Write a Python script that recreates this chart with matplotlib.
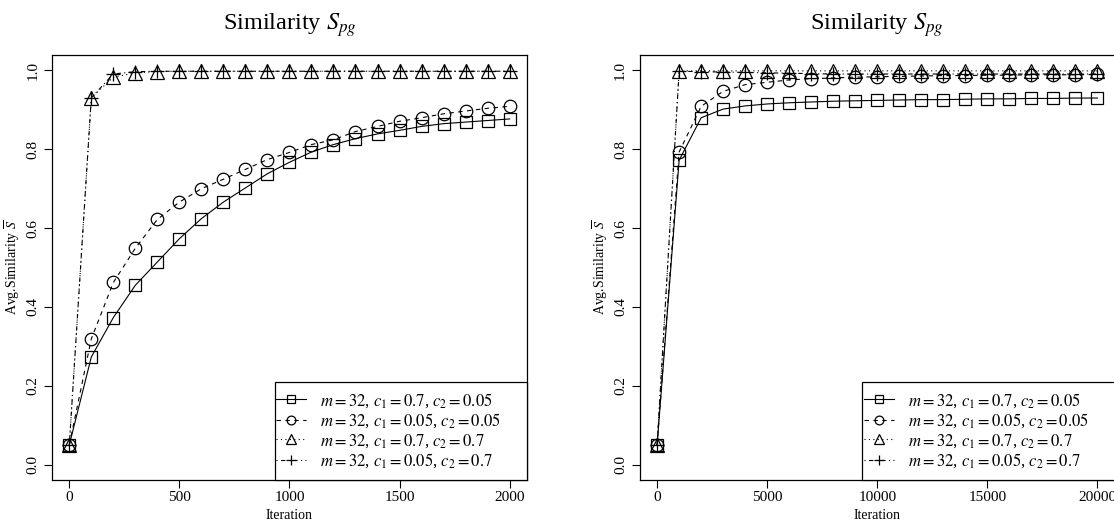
import matplotlib
matplotlib.use("Agg")
import matplotlib.pyplot as plt
from matplotlib.patches import Rectangle

plt.rcParams["font.family"] = ["Liberation Serif", "DejaVu Serif"]
plt.rcParams["mathtext.fontset"] = "stix"

# ---- data -------------------------------------------------------------
iter_short = [0, 100, 200, 300, 400, 500, 600, 700, 800, 900, 1000,
              1100, 1200, 1300, 1400, 1500, 1600, 1700, 1800, 1900, 2000]
short_c07_c005 = [0.050, 0.273, 0.373, 0.455, 0.514, 0.573, 0.624, 0.666, 0.702, 0.738, 0.767,
                  0.793, 0.812, 0.827, 0.839, 0.848, 0.858, 0.865, 0.869, 0.873, 0.877]
short_c005_c005 = [0.050, 0.319, 0.462, 0.549, 0.622, 0.666, 0.700, 0.724, 0.749, 0.774, 0.792,
                   0.812, 0.824, 0.845, 0.858, 0.871, 0.880, 0.890, 0.897, 0.904, 0.909]
short_c07_c07 = [0.050, 0.931, 0.983, 0.994, 0.997, 0.998, 0.998, 0.998, 0.998, 0.998, 0.998,
                 0.998, 0.998, 0.998, 0.998, 0.998, 0.998, 0.998, 0.998, 0.998, 0.998]
short_c005_c07 = [0.050, 0.931, 0.991, 0.997, 0.998, 0.998, 0.998, 0.998, 0.998, 0.998, 0.998,
                  0.998, 0.998, 0.998, 0.998, 0.998, 0.998, 0.998, 0.998, 0.998, 0.998]

iter_long = [0, 1000, 2000, 3000, 4000, 5000, 6000, 7000, 8000, 9000, 10000,
             11000, 12000, 13000, 14000, 15000, 16000, 17000, 18000, 19000, 20000]
long_c07_c005 = [0.050, 0.772, 0.880, 0.902, 0.910, 0.915, 0.918, 0.920, 0.922, 0.923, 0.924,
                 0.925, 0.926, 0.926, 0.927, 0.928, 0.928, 0.929, 0.929, 0.930, 0.930]
long_c005_c005 = [0.050, 0.793, 0.909, 0.947, 0.964, 0.970, 0.976, 0.979, 0.981, 0.983, 0.984,
                  0.985, 0.986, 0.987, 0.987, 0.988, 0.988, 0.989, 0.989, 0.989, 0.990]
long_c07_c07 = [0.050, 0.999, 0.999, 0.999, 0.999, 0.999, 0.999, 0.999, 0.999, 0.999, 0.999,
                0.999, 0.999, 0.999, 0.999, 0.999, 0.999, 0.999, 0.999, 0.999, 0.999]
long_c005_c07 = [0.050, 0.998, 0.997, 0.996, 0.995, 0.994, 0.993, 0.992, 0.991, 0.991, 0.991,
                 0.991, 0.991, 0.991, 0.991, 0.991, 0.991, 0.991, 0.991, 0.991, 0.991]

series_labels = [r"$m = 32$, $c_1 = 0.7$, $c_2 = 0.05$",
                 r"$m = 32$, $c_1 = 0.05$, $c_2 = 0.05$",
                 r"$m = 32$, $c_1 = 0.7$, $c_2 = 0.7$",
                 r"$m = 32$, $c_1 = 0.05$, $c_2 = 0.7$"]
y_ticks = [0.0, 0.2, 0.4, 0.6, 0.8, 1.0]
short_xticks = [0, 500, 1000, 1500, 2000]
long_xticks = [0, 5000, 10000, 15000, 20000]

# ---- styles (R-like lty 1..4, pch 0, 1, 2, 3) ------------------------
styles = [
    dict(ls="-", marker="s", ms=8.5),
    dict(ls=(0, (4, 4)), marker="o", ms=9),
    dict(ls=(0, (1, 3)), marker="^", ms=9.5),
    dict(ls=(0, (1, 3, 4, 3)), marker="+", ms=10),
]

W, H = 1114, 521
fig = plt.figure(figsize=(W / 100, H / 100), dpi=100)


def panel(left_px, x, ys, xticks, xpad):
    ax = fig.add_axes([left_px / W, (H - 480.3) / H, 475.5 / W, 425.6 / H])
    handles = []
    for y, st in zip(ys, styles):
        h, = ax.plot(x, y, color="black", lw=0.8, ls=st["ls"], marker=st["marker"],
                     ms=st["ms"], mfc="none", mec="black", mew=0.9)
        handles.append(h)
    ax.set_xlim(x[0] - xpad, x[-1] + xpad)
    ax.set_ylim(-0.04, 1.04)
    ax.set_xticks(xticks)
    ax.set_xticklabels([str(t) for t in xticks])
    ax.set_yticks(y_ticks)
    ax.set_yticklabels([f"{t:.1f}" for t in y_ticks], rotation=90, va="center")
    ax.tick_params(axis="both", direction="out", length=5.5, width=0.8,
                   labelsize=11, color="black")
    ax.tick_params(axis="x", pad=2.0)
    ax.tick_params(axis="y", pad=3.5)
    for sp in ax.spines.values():
        sp.set_linewidth(0.9)
        sp.set_color("black")
    ax.set_xlabel("Iteration", fontsize=10)
    ax.set_ylabel(r"Avg.Similarity $\overline{S}$", fontsize=10)
    ax.xaxis.set_label_coords(0.5, -0.068)
    ax.yaxis.set_label_coords(-0.062, 0.5)
    ax.set_title(r"Similarity $S_{pg}$", fontsize=17.5, pad=18)

    # legend box anchored to the lower-right corner of the plotting region
    box_w = 252.7 / 475.5
    box_h = (480.3 - 381.7) / 425.6
    ax.add_patch(Rectangle((1 - box_w, 0), box_w, box_h, transform=ax.transAxes,
                           fill=False, edgecolor="black", lw=0.9, zorder=5,
                           clip_on=False))
    ax.add_patch(Rectangle((1 - box_w, 0), box_w, box_h, transform=ax.transAxes,
                           facecolor="white", edgecolor="none", zorder=4,
                           clip_on=False))
    leg = ax.legend(handles, series_labels, loc="center left",
                    bbox_to_anchor=(1 - box_w + 1.5 / 475.5, (480.3 - 430.5) / 425.6),
                    frameon=False, fontsize=12, handlelength=1.8, handletextpad=0.85,
                    labelspacing=0.1, borderpad=0, borderaxespad=0,
                    markerscale=0.7)
    leg.set_zorder(6)
    return ax


panel(51.7, iter_short, [short_c07_c005, short_c005_c005, short_c07_c07, short_c005_c07],
      short_xticks, 80)
panel(639.5, iter_long, [long_c07_c005, long_c005_c005, long_c07_c07, long_c005_c07],
      long_xticks, 800)

fig.savefig("out.png", dpi=100)
